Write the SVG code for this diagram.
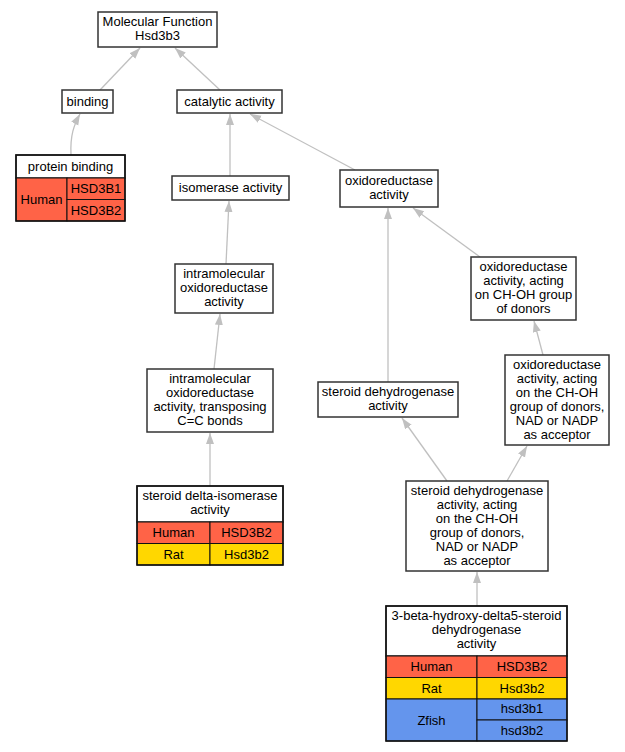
<svg xmlns="http://www.w3.org/2000/svg" width="625" height="752" viewBox="0 0 625 752">
<style>
text{font-family:"Liberation Sans",Arial,sans-serif;font-size:13px;fill:#000;text-anchor:middle}
.b{fill:#fff;stroke:#333;stroke-width:1.5}
.c{stroke:#111;stroke-width:1}
.h{fill:#ff6347}
.r{fill:#ffd700}
.z{fill:#6495ed}
.e{fill:none;stroke:#c0c0c0;stroke-width:1.3;marker-end:url(#a)}
</style>
<defs>
<marker id="a" markerUnits="userSpaceOnUse" markerWidth="12" markerHeight="10" refX="11" refY="4" orient="auto">
<path d="M0,0 L11,4 L0,8 z" fill="#c0c0c0"/>
</marker>
</defs>
<rect width="625" height="752" fill="#fff"/>
<g id="edges">
<path class="e" d="M100,90 L140,48"/>
<path class="e" d="M220,90 L175,48"/>
<path class="e" d="M71,155 C70,135 74,125 80,114"/>
<path class="e" d="M230,176 L230,114"/>
<path class="e" d="M355,170 L250,114"/>
<path class="e" d="M226,264 L229,201"/>
<path class="e" d="M214,369 L220,314"/>
<path class="e" d="M210,486 L210,433"/>
<path class="e" d="M388,382 L388,208"/>
<path class="e" d="M480,257 L413,208"/>
<path class="e" d="M543,355 L534,321"/>
<path class="e" d="M447,481 L402,418"/>
<path class="e" d="M507,481 L527,446"/>
<path class="e" d="M477,606 L477,572"/>
</g>
<g id="mf">
<rect class="b" x="98" y="12" width="119" height="35"/>
<text x="157.5" y="26">Molecular Function</text>
<text x="157.5" y="40">Hsd3b3</text>
</g>
<g id="binding">
<rect class="b" x="62" y="90" width="51" height="23"/>
<text x="87.5" y="106">binding</text>
</g>
<g id="catalytic">
<rect class="b" x="177" y="90" width="105" height="23"/>
<text x="229.5" y="106">catalytic activity</text>
</g>
<g id="protein">
<rect class="b" x="16" y="155" width="109" height="23"/>
<text x="70.5" y="171">protein binding</text>
<rect class="h c" x="16" y="178" width="51" height="43"/>
<rect class="h c" x="67" y="178" width="58" height="21.5"/>
<rect class="h c" x="67" y="199.5" width="58" height="21.5"/>
<text x="41.5" y="204">Human</text>
<text x="96" y="193">HSD3B1</text>
<text x="96" y="215">HSD3B2</text>
<rect x="16" y="155" width="109" height="66" fill="none" stroke="#111" stroke-width="1.5"/>
</g>
<g id="isomerase">
<rect class="b" x="172" y="176" width="117" height="24"/>
<text x="230.5" y="192">isomerase activity</text>
</g>
<g id="oxido">
<rect class="b" x="340" y="170" width="98" height="37"/>
<text x="389" y="185">oxidoreductase</text>
<text x="389" y="199">activity</text>
</g>
<g id="intramol">
<rect class="b" x="175" y="264" width="98" height="49"/>
<text x="224" y="278">intramolecular</text>
<text x="224" y="292">oxidoreductase</text>
<text x="224" y="306">activity</text>
</g>
<g id="chohgroup">
<rect class="b" x="471" y="257" width="105" height="63"/>
<text x="523.5" y="271">oxidoreductase</text>
<text x="523.5" y="285">activity, acting</text>
<text x="523.5" y="299">on CH-OH group</text>
<text x="523.5" y="313">of donors</text>
</g>
<g id="transposing">
<rect class="b" x="147" y="369" width="126" height="63"/>
<text x="210" y="383">intramolecular</text>
<text x="210" y="397">oxidoreductase</text>
<text x="210" y="411">activity, transposing</text>
<text x="210" y="425">C=C bonds</text>
</g>
<g id="steroiddh">
<rect class="b" x="318" y="382" width="140" height="35"/>
<text x="388" y="396">steroid dehydrogenase</text>
<text x="388" y="410">activity</text>
</g>
<g id="nad">
<rect class="b" x="505" y="355" width="104" height="90"/>
<text x="557" y="369">oxidoreductase</text>
<text x="557" y="383">activity, acting</text>
<text x="557" y="397">on the CH-OH</text>
<text x="557" y="411">group of donors,</text>
<text x="557" y="425">NAD or NADP</text>
<text x="557" y="439">as acceptor</text>
</g>
<g id="deltaiso">
<rect class="b" x="137" y="486" width="146" height="36"/>
<text x="210" y="500">steroid delta-isomerase</text>
<text x="210" y="514">activity</text>
<rect class="h c" x="137" y="522" width="73" height="21.5"/>
<rect class="h c" x="210" y="522" width="73" height="21.5"/>
<rect class="r c" x="137" y="543.5" width="73" height="21.5"/>
<rect class="r c" x="210" y="543.5" width="73" height="21.5"/>
<text x="173.5" y="537">Human</text>
<text x="246.5" y="537">HSD3B2</text>
<text x="173.5" y="558.5">Rat</text>
<text x="246.5" y="558.5">Hsd3b2</text>
<rect x="137" y="486" width="146" height="79" fill="none" stroke="#111" stroke-width="1.5"/>
</g>
<g id="steroiddhnad">
<rect class="b" x="406" y="481" width="142" height="90"/>
<text x="477" y="495">steroid dehydrogenase</text>
<text x="477" y="509">activity, acting</text>
<text x="477" y="523">on the CH-OH</text>
<text x="477" y="537">group of donors,</text>
<text x="477" y="551">NAD or NADP</text>
<text x="477" y="565">as acceptor</text>
</g>
<g id="betahsd">
<rect class="b" x="386" y="606" width="181" height="50"/>
<text x="476.5" y="620">3-beta-hydroxy-delta5-steroid</text>
<text x="476.5" y="634">dehydrogenase</text>
<text x="476.5" y="648">activity</text>
<rect class="h c" x="386" y="656" width="91" height="21.5"/>
<rect class="h c" x="477" y="656" width="90" height="21.5"/>
<rect class="r c" x="386" y="677.5" width="91" height="21.5"/>
<rect class="r c" x="477" y="677.5" width="90" height="21.5"/>
<rect class="z c" x="386" y="699" width="91" height="42"/>
<rect class="z c" x="477" y="699" width="90" height="21"/>
<rect class="z c" x="477" y="720" width="90" height="21"/>
<text x="431.5" y="671">Human</text>
<text x="522" y="671">HSD3B2</text>
<text x="431.5" y="692.5">Rat</text>
<text x="522" y="692.5">Hsd3b2</text>
<text x="431.5" y="724.5">Zfish</text>
<text x="522" y="713">hsd3b1</text>
<text x="522" y="735">hsd3b2</text>
<rect x="386" y="606" width="181" height="135" fill="none" stroke="#111" stroke-width="1.5"/>
</g>
</svg>
